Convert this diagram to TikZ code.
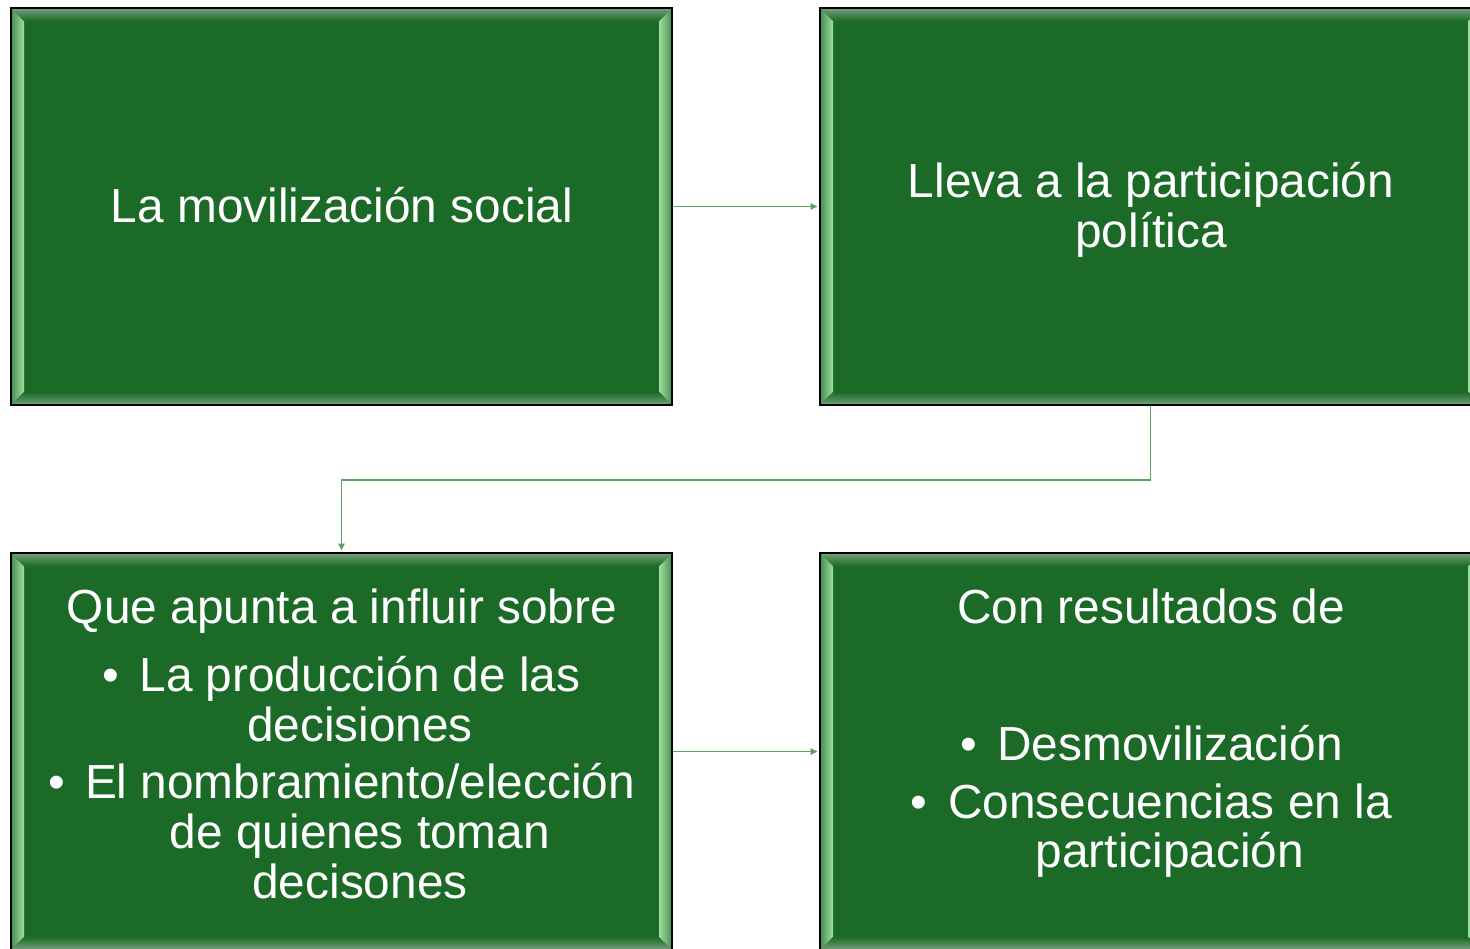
\documentclass[tikz,border=0pt]{standalone}
\usepackage{fontspec}
\setmainfont{Liberation Sans}
\usetikzlibrary{arrows.meta,calc}
\definecolor{boxgreen}{RGB}{28,106,40}
\definecolor{bevlight}{RGB}{118,162,124}
\definecolor{bevmid}{RGB}{72,140,82}
\definecolor{bevhi}{RGB}{158,224,158}
\definecolor{linkgreen}{RGB}{92,160,98}
\tikzset{
  x=1pt, y=-1pt,
  bevelbox/.style={
    draw=black, line width=2pt, fill=boxgreen, rectangle,
    minimum width=661pt, minimum height=397pt, inner sep=0pt,
    path picture={
      \path (path picture bounding box.north west) coordinate (@nw)
            (path picture bounding box.south east) coordinate (@se);
      \coordinate (@ne) at (@se |- @nw);
      \coordinate (@sw) at (@nw |- @se);
      \shade[left color=bevmid, right color=bevhi]
        (@nw) -- ($(@nw)+(13,13)$) -- ($(@sw)+(13,-13)$) -- (@sw) -- cycle;
      \shade[left color=bevhi, right color=bevmid]
        (@ne) -- ($(@ne)+(-13,13)$) -- ($(@se)+(-13,-13)$) -- (@se) -- cycle;
      \shade[top color=bevlight, bottom color=boxgreen]
        (@nw) -- (@ne) -- ($(@ne)+(-13,13)$) -- ($(@nw)+(13,13)$) -- cycle;
      \shade[top color=boxgreen, bottom color=bevlight]
        (@sw) -- (@se) -- ($(@se)+(-13,-13)$) -- ($(@sw)+(13,-13)$) -- cycle;
    }
  },
  txt/.style={text=white, font=\fontsize{47.8}{50}\selectfont, inner sep=0pt, anchor=base},
  link/.style={draw=linkgreen, line width=1.6pt, -{Triangle[length=7pt,width=6.5pt]}, shorten >=1.5pt}
}
\begin{document}
\begin{tikzpicture}
\useasboundingbox (0,0) rectangle (1470,948);
\clip (0,0) rectangle (1470,948);

\node[bevelbox] (tl) at (341.5,206.5) {};
\node[bevelbox] (tr) at (1150.5,206.5) {};
\node[bevelbox] (bl) at (341.5,751.5) {};
\node[bevelbox] (br) at (1150.5,751.5) {};

\coordinate (bend) at (341.5,480);
\draw[link] (tl.east) -- (tr.west);
\draw[link] (tr.south) |- (bend) -- (bl.north);
\draw[link] (bl.east) -- (br.west);

\node[txt] (t1) at (342,222.5) {La movilización social};

\node[txt] (t2a) at (1151,197.5) {Lleva a la participación};
\node[txt] (t2b) at (1151,247.5) {política};

\node[txt] (t3) at (342,623.5) {Que apunta a influir sobre};
\node[txt] (b3a) at (111,691.5) {•};
\node[txt] (t3a) at (360,691.5) {La producción de las};
\node[txt] (t3b) at (360,741.5) {decisiones};
\node[txt] (b3b) at (57,798.5) {•};
\node[txt] (t3c) at (360,798.5) {El nombramiento/elección};
\node[txt] (t3d) at (360,848.5) {de quienes toman};
\node[txt] (t3e) at (360,898.5) {decisones};

\node[txt] (t4) at (1151,623.5) {Con resultados de};
\node[txt] (b4a) at (969,760.5) {•};
\node[txt] (t4a) at (1170,760.5) {Desmovilización};
\node[txt] (b4b) at (919,818.5) {•};
\node[txt] (t4b) at (1170,818.5) {Consecuencias en la};
\node[txt] (t4c) at (1170,867.5) {participación};
\end{tikzpicture}
\end{document}
